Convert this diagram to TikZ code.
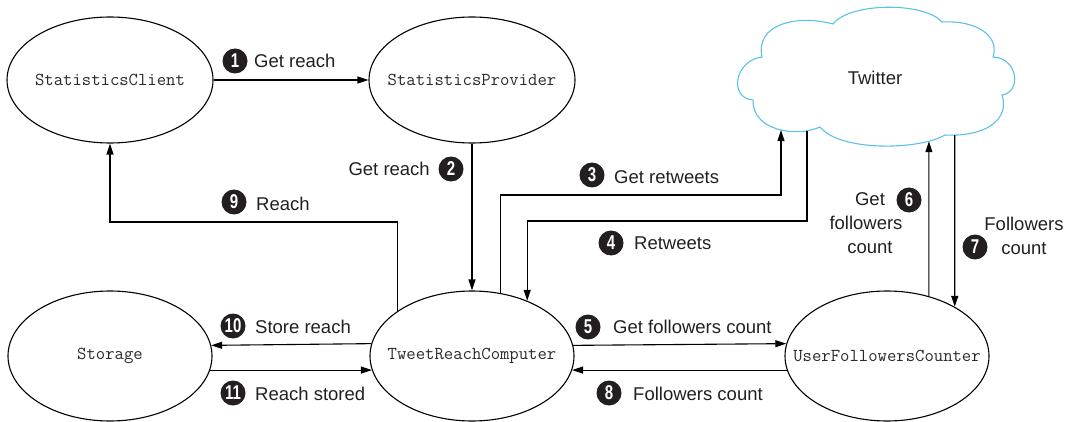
\documentclass[tikz,border=0pt]{standalone}
\usepackage{fontspec}
\setmainfont{Liberation Sans}
\newfontfamily\numfont{Liberation Sans}[FakeStretch=0.75]
\usetikzlibrary{shapes.geometric, arrows.meta, intersections}
\definecolor{cloudblue}{HTML}{5BC2E7}
\definecolor{txt}{HTML}{231F20}
\definecolor{monotxt}{HTML}{2A2A2A}
\begin{document}
\begin{tikzpicture}[x=1pt,y=1pt,
  proc/.style={ellipse, draw=black, line width=1.1pt, inner sep=0pt,
    font=\fontsize{18.2}{20}\selectfont\ttfamily, text=monotxt},
  topproc/.style={proc, minimum width=206pt, minimum height=126pt},
  botproc/.style={proc, minimum width=204pt, minimum height=130pt},
  arr/.style={line width=1.1pt, -{Triangle[length=11pt,width=7pt]}},
  lab/.style={font=\fontsize{18.5}{22}\selectfont, text=txt, inner sep=0pt},
  num/.style={circle, fill=txt, text=white, inner sep=0pt, minimum size=25pt,
    font=\numfont\bfseries\fontsize{20}{20}\selectfont},
]
\useasboundingbox (0,0) rectangle (1070,-422);

% process nodes
\node[topproc] (SC) at (110,-80) {\makebox[0pt]{StatisticsClient}};
\node[topproc] (SP) at (472,-80) {\makebox[0pt]{StatisticsProvider}};
\node[botproc] (ST) at (110,-356) {\makebox[0pt]{Storage}};
\node[botproc] (TRC) at (472,-356) {\makebox[0pt]{TweetReachComputer}};
\node[botproc] (UFC) at (887,-356) {\makebox[0pt]{UserFollowersCounter}};

% Twitter cloud
\draw[cloudblue, line width=1.1pt, name path=cloud]
  (753,-100) .. controls (728,-98) and (735,-60) .. (762,-57)
  .. controls (755,-25) and (795,-14) .. (833,-24)
  .. controls (850,-2) and (925,-2) .. (942,-22)
  .. controls (975,-20) and (1000,-35) .. (993,-57)
  .. controls (1018,-58) and (1022,-92) .. (1002,-95)
  .. controls (1010,-120) and (985,-137) .. (945,-135)
  .. controls (920,-150) and (840,-152) .. (820,-127)
  .. controls (795,-138) and (752,-130) .. (753,-100) -- cycle;
\node[lab, anchor=base] (TW) at (875,-85) {Twitter};

\path[name path=v3] (781,-250) -- (781,-100);
\path[name path=v4] (807,-250) -- (807,-100);
\path[name path=v6] (UFC.55.44) -- ++(0,200);
\path[name path=v7] (UFC.36.19) -- ++(0,200);
\path[name intersections={of=cloud and v3, by=tw3}];
\path[name intersections={of=cloud and v4, by=tw4}];
\path[name intersections={of=cloud and v6, by=tw6}];
\path[name intersections={of=cloud and v7, by=tw7}];

% connectors
\draw[arr] (SC.east) -- (SP.west);
\draw[arr] (SP.south) -- (TRC.north);
\draw[arr] (TRC.66.7) |- (tw3 |- 0,-195) -- (tw3);
\draw[arr] (tw4) |- (TRC.45.6 |- 0,-221) -- (TRC.45.6);
\draw[arr] (TRC.6.83) -- (UFC.173.17);
\draw[arr] (UFC.55.44) -- (tw6);
\draw[arr] (tw7) -- (UFC.36.19);
\draw[arr] (UFC.188.59) -- (TRC.-8.59);
\draw[arr] (TRC.149.57) |- (SC.south |- 0,-222) -- (SC.south);
\draw[arr] (TRC.173.17) -- (ST.6.83);
\draw[arr] (ST.-8.59) -- (TRC.188.59);

% labels
\node[num] (n1) at (235,-61) {1};
\node[lab, anchor=base west] (t1) at (254,-68) {Get reach};
\node[num] (n2) at (451,-169) {2};
\node[lab, anchor=base east] (t2) at (430,-176) {Get reach};
\node[num] (n3) at (592,-175) {3};
\node[lab, anchor=base west] (t3) at (614,-183) {Get retweets};
\node[num] (n4) at (611,-243) {4};
\node[lab, anchor=base west] (t4) at (634,-249) {Retweets};
\node[num] (n5) at (588,-327) {5};
\node[lab, anchor=base west] (t5) at (613,-333) {Get followers count};
\node[num] (n6) at (909,-200) {6};
\node[lab, anchor=base] (t6a) at (870,-205) {Get};
\node[lab, anchor=base] (t6b) at (866,-229) {followers};
\node[lab, anchor=base] (t6c) at (870,-253) {count};
\node[num] (n7) at (975,-247) {7};
\node[lab, anchor=base] (t7a) at (1024,-230) {Followers};
\node[lab, anchor=base] (t7b) at (1024,-254) {count};
\node[num] (n8) at (609,-393) {8};
\node[lab, anchor=base west] (t8) at (633,-400) {Followers count};
\node[num] (n9) at (234,-202) {9};
\node[lab, anchor=base west] (t9) at (256,-210) {Reach};
\node[num] (n10) at (233,-326) {10};
\node[lab, anchor=base west] (t10) at (255,-333) {Store reach};
\node[num] (n11) at (233,-393) {11};
\node[lab, anchor=base west] (t11) at (255,-400) {Reach stored};
\end{tikzpicture}
\end{document}
